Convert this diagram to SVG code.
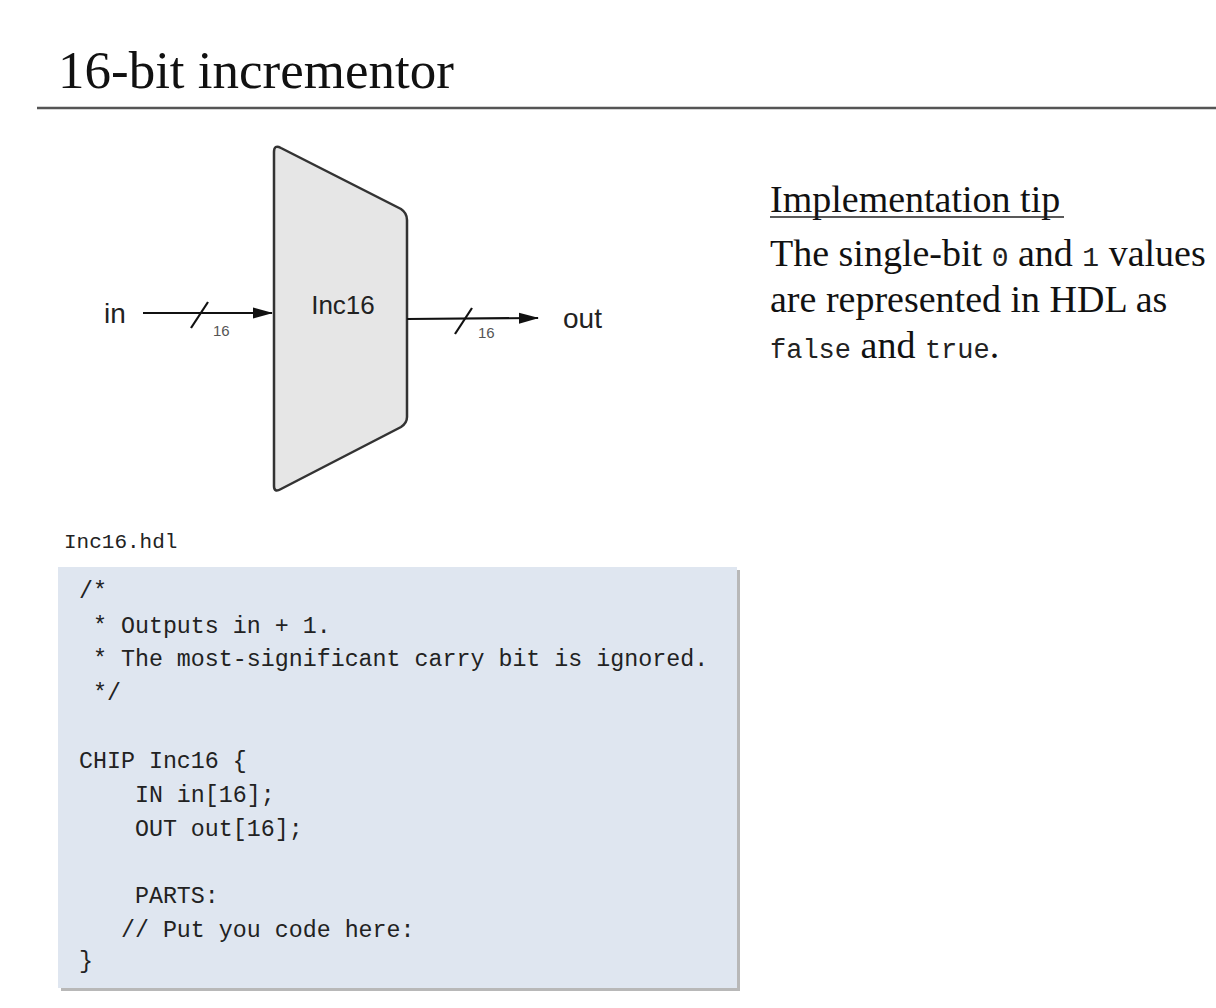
<svg xmlns="http://www.w3.org/2000/svg" width="1216" height="1008" viewBox="0 0 1216 1008">
<style>
.serif{font-family:"Liberation Serif","Times New Roman",serif;fill:#111}
.sans{font-family:"Liberation Sans",Arial,sans-serif;fill:#222}
.mono{font-family:"Liberation Mono","DejaVu Sans Mono",monospace;fill:#222}
.pre{white-space:pre}
.wire{stroke:#111;stroke-width:2.2;fill:none}
.bus{font-family:"Liberation Sans",Arial,sans-serif;font-size:15px;fill:#555}
</style>
<defs>
<marker id="arr" markerWidth="20" markerHeight="14" refX="19" refY="7" orient="auto" markerUnits="userSpaceOnUse">
<path d="M0,1.5 L20,7 L0,12.5 Z" fill="#111"/>
</marker>
</defs>
<rect width="1216" height="1008" fill="#ffffff"/>
<g id="title">
<text class="serif" x="58" y="88" font-size="53">16-bit incrementor</text>
<line x1="37" y1="108" x2="1216" y2="108" stroke="#555" stroke-width="2.5"/>
</g>
<g id="inc16">
<path d="M274,152 Q274,144 281,148 L401,209 Q407,213 407,220 L407,417 Q407,423 401,427 L281,489 Q274,493 274,486 Z" fill="#e6e6e6" stroke="#333" stroke-width="2.5"/>
<text class="sans" x="343" y="314" font-size="26" text-anchor="middle">Inc16</text>
</g>
<g id="in-label"><text class="sans" x="104" y="323" font-size="28">in</text></g>
<g id="out-label"><text class="sans" x="563" y="328" font-size="28">out</text></g>
<g id="connectors">
<line class="wire" x1="143" y1="313" x2="272" y2="313" marker-end="url(#arr)"/>
<line class="wire" x1="191" y1="328" x2="208" y2="302"/>
<text class="bus" x="213" y="336">16</text>
<line class="wire" x1="407" y1="319" x2="538" y2="318" marker-end="url(#arr)"/>
<line class="wire" x1="455" y1="334" x2="472" y2="308"/>
<text class="bus" x="478" y="338">16</text>
</g>
<g id="tip">
<text class="serif" x="770" y="212" font-size="38">Implementation tip</text>
<line x1="770" y1="217" x2="1064" y2="217" stroke="#222" stroke-width="1.5"/>
<text class="serif pre" x="770" y="266" font-size="38" xml:space="preserve">The single-bit <tspan class="mono" font-size="28">0</tspan> and <tspan class="mono" font-size="28">1</tspan> values</text>
<text class="serif" x="770" y="312" font-size="38">are represented in HDL as</text>
<text class="serif pre" x="770" y="358" font-size="38" xml:space="preserve"><tspan class="mono" font-size="27">false</tspan> and <tspan class="mono" font-size="27">true</tspan>.</text>
</g>
<g id="code">
<text class="mono" x="64" y="548" font-size="21" fill="#333">Inc16.hdl</text>
<rect x="61" y="570" width="679" height="421" fill="#9a9a9a" opacity="0.7"/>
<rect x="58" y="567" width="679" height="421" fill="#dfe6f0"/>
<g class="mono" font-size="23.3">
<text class="pre" x="79" y="598" xml:space="preserve">/*</text>
<text class="pre" x="79" y="633" xml:space="preserve"> * Outputs in + 1.</text>
<text class="pre" x="79" y="666" xml:space="preserve"> * The most-significant carry bit is ignored.</text>
<text class="pre" x="79" y="700" xml:space="preserve"> */</text>
<text class="pre" x="79" y="768" xml:space="preserve">CHIP Inc16 {</text>
<text class="pre" x="79" y="802" xml:space="preserve">    IN in[16];</text>
<text class="pre" x="79" y="836" xml:space="preserve">    OUT out[16];</text>
<text class="pre" x="79" y="903" xml:space="preserve">    PARTS:</text>
<text class="pre" x="79" y="937" xml:space="preserve">   // Put you code here:</text>
<text class="pre" x="79" y="968" xml:space="preserve">}</text>
</g>
</g>
</svg>
